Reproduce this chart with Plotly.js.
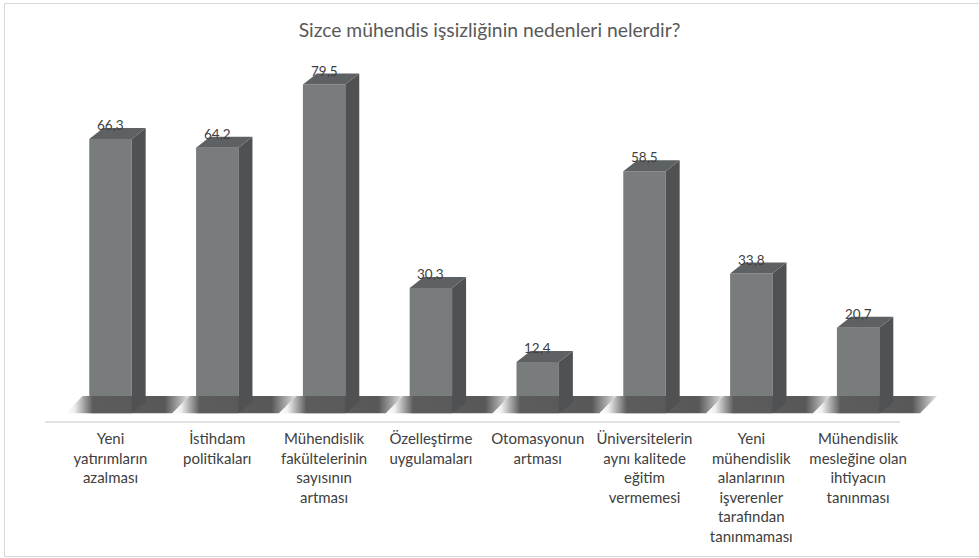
<!DOCTYPE html>
<html>
<head>
<meta charset="utf-8">
<script src="https://cdn.plot.ly/plotly-3.0.1.min.js"></script>
<style>
  html, body { margin: 0; padding: 0; background: #ffffff; }
  #wrap { position: relative; width: 979px; height: 558px; overflow: hidden; }
  #chart { position: absolute; left: 0; top: 0; width: 979px; height: 558px; }
  #frame { position: absolute; left: 4px; top: 3px; width: 985px; height: 552px;
           border: 1px solid #d9d9d9; pointer-events: none; }
</style>
</head>
<body>
<div id="wrap">
  <div id="chart"></div>
  <div id="frame"></div>
</div>
<script>
// ---- data ----
const categories = [
  "Yeni<br>yatırımların<br>azalması",
  "İstihdam<br>politikaları",
  "Mühendislik<br>fakültelerinin<br>sayısının<br>artması",
  "Özelleştirme<br>uygulamaları",
  "Otomasyonun<br>artması",
  "Üniversitelerin<br>aynı kalitede<br>eğitim<br>vermemesi",
  "Yeni<br>mühendislik<br>alanlarının<br>işverenler<br>tarafından<br>tanınmaması",
  "Mühendislik<br>mesleğine olan<br>ihtiyacın<br>tanınması"
];
const values = [66.3, 64.2, 79.5, 30.3, 12.4, 58.5, 33.8, 20.7];
const valueLabels = values.map(v => v.toFixed(1).replace('.', ','));
const chartTitle = "Sizce mühendis işsizliğinin nedenleri nelerdir?";

// ---- style / geometry (axis units) ----
const FONT = "Lato, 'Open Sans', sans-serif";
const BAR_W = 0.397;      // front face width (category units)
const DEPTH_X = 0.131;    // 3D depth offset, x
const DEPTH_Y = 2.66;     // 3D depth offset, y (value units)
const FLOOR_H = 4.2;      // floor shadow band height (value units)
const FRONT = '#797c7d', SIDE = '#4f5153', TOP = '#5e6163';

const idx = categories.map((_, i) => i);
const traces = [];

// floor shadows
idx.forEach(i => {
  const l = i - 0.421, r = i + 0.58, s = 0.16;
  traces.push({
    type: 'scatter', mode: 'lines', hoverinfo: 'skip', showlegend: false,
    x: [l, r, r + s, l + s, l], y: [0, 0, FLOOR_H, FLOOR_H, 0],
    line: { width: 0 }, fill: 'toself',
    fillgradient: { type: 'horizontal',
      colorscale: [[0, 'rgba(255,255,255,1)'], [0.07, '#f0f0f0'], [0.22, '#5c5c5c'], [0.8, '#585858'], [1, '#e4e4e4']] }
  });
});

// front faces
traces.push({
  type: 'bar', x: idx, y: values, width: BAR_W, base: 0,
  marker: { color: FRONT, line: { width: 0 } },
  hoverinfo: 'skip', showlegend: false
});

// side and top faces
idx.forEach(i => {
  const v = values[i], xl = i - BAR_W / 2, xr = i + BAR_W / 2;
  traces.push({
    type: 'scatter', mode: 'lines', hoverinfo: 'skip', showlegend: false,
    x: [xr, xr + DEPTH_X, xr + DEPTH_X, xr, xr], y: [0, DEPTH_Y, v + DEPTH_Y, v, 0],
    line: { width: 0 }, fill: 'toself', fillcolor: SIDE
  });
  traces.push({
    type: 'scatter', mode: 'lines', hoverinfo: 'skip', showlegend: false,
    x: [xl, xr, xr + DEPTH_X, xl + DEPTH_X, xl], y: [v, v, v + DEPTH_Y, v + DEPTH_Y, v],
    line: { width: 0 }, fill: 'toself', fillcolor: TOP
  });
});

const annotations = idx.map(i => ({
  x: i, y: values[i], xref: 'x', yref: 'y', text: valueLabels[i],
  showarrow: false, yshift: 14, yanchor: 'middle', xanchor: 'center',
  font: { family: FONT, size: 13.5, color: '#404040' }
}));

const layout = {
  width: 979, height: 558,
  margin: { l: 20, r: 19, t: 40, b: 136, pad: 0 },
  paper_bgcolor: '#ffffff', plot_bgcolor: 'rgba(0,0,0,0)',
  title: { text: chartTitle, x: 0.5, xanchor: 'center', y: 1 - 30 / 558, yanchor: 'middle',
           font: { family: FONT, size: 19.3, color: '#595959' } },
  xaxis: { range: [-0.847, 7.954], tickvals: idx, ticktext: categories,
           showgrid: false, zeroline: false, showline: false, ticks: '',
           ticklabelstandoff: 6,
           tickfont: { family: FONT, size: 15, color: '#404040' }, fixedrange: true },
  yaxis: { range: [-2.10, 90.26], visible: false, fixedrange: true },
  shapes: [{ type: 'line', xref: 'x', yref: 'paper', x0: -0.613, x1: 7.392, y0: 0, y1: 0,
             line: { color: '#d9d9d9', width: 1.5 } }],
  annotations: annotations,
  showlegend: false
};

Plotly.newPlot('chart', traces, layout, { displayModeBar: false, staticPlot: true });
</script>
</body>
</html>
